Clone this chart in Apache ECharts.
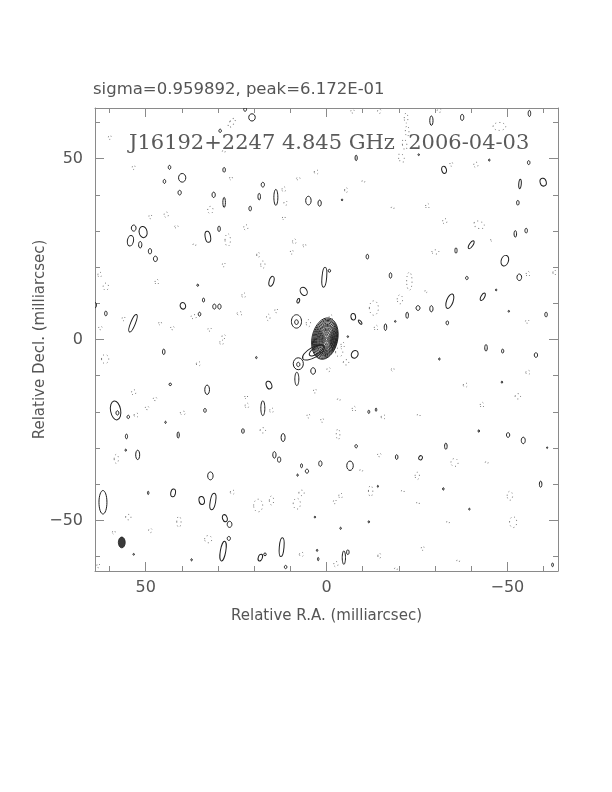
<!DOCTYPE html>
<html>
<head>
<meta charset="utf-8">
<script src="https://cdn.jsdelivr.net/npm/echarts@6/dist/echarts.min.js"></script>
<style>html,body{margin:0;padding:0;background:#fff}#c{width:612px;height:792px}</style>
</head>
<body>
<div id="c"></div>
<script>
// ---------- data (milliarcsec) : [RA offset, Dec offset, width, height, tilt deg] ----------
const headerText = 'sigma=0.959892, peak=6.172E-01';
const plotTitle = 'J16192+2247 4.845 GHz  2006-04-03';
const xAxisName = 'Relative R.A. (milliarcsec)';
const yAxisName = 'Relative Decl. (milliarcsec)';
const axisRange = [-64, 64];
const minorTicks = [-60,-50,-40,-30,-20,-10,0,10,20,30,40,50,60];
const majorTicks = [-50,0,50];

const coreContours = [
  [0.45,0.25,7.1,11.6,-12],[0.4,0.2,6.7,11.0,-12],[0.35,0.2,6.3,10.3,-12],[0.3,0.2,5.9,9.6,-12],
  [0.25,0.15,5.5,8.9,-11],[0.2,0.1,5.1,8.2,-10],[0.2,0.1,4.7,7.6,-10],[0.15,0.1,4.3,7.0,-9],
  [0.1,0.05,3.9,6.3,-8],[0.1,0.05,3.5,5.6,-8],[0.05,0.05,3.1,5.0,-6],[0,0,2.7,4.3,-5],
  [0,0,2.3,3.7,-4],[0,0,1.9,3.0,-2],[0,0,1.4,2.3,0],[0,0,0.9,1.5,0],[0,0,0.5,0.8,0]
];
const tailContours = [
  [3.6,-3.6,6.8,2.8,30],[2.8,-3.0,4.6,1.9,35],[7.8,-6.7,2.8,3.3,0],[7.8,-6.9,0.9,1.2,0]
];
const solidBlobs = [
  [20.6,61.4,1.8,2.0,0],[43.4,47.6,0.7,1.1,0],[39.9,44.7,2.0,2.4,0],[44.8,43.7,0.7,1.1,0],
  [40.6,40.6,0.9,1.3,0],[28.3,46.9,0.7,1.3,0],[31.2,40.0,0.9,1.5,0],[28.3,37.9,0.7,2.8,0],
  [17.6,42.8,0.9,1.3,0],[18.6,39.5,0.7,1.8,0],[14.0,39.3,1.1,4.4,0],[21.1,36.2,0.7,1.3,0],
  [5.0,38.4,1.5,2.4,0],[1.9,37.7,0.9,1.7,0],[53.3,30.8,1.3,1.7,0],[50.7,29.7,2.2,3.1,10],
  [54.2,27.3,1.7,2.9,-10],[51.5,26.2,0.9,1.8,0],[48.8,24.4,0.9,1.5,0],[47.3,22.3,1.1,1.5,0],
  [32.8,28.4,1.5,3.1,10],[29.7,30.6,0.7,1.5,0],[15.2,16.1,1.3,2.8,-15],[6.3,13.3,1.8,2.4,30],
  [7.8,10.7,0.7,1.3,-20],[0.6,17.2,1.3,5.5,-5],[-0.8,19.0,0.7,0.8,0],[8.3,5.0,2.8,3.7,0],
  [8.3,4.8,1.0,1.3,0],[39.7,9.3,1.5,1.8,20],[34.0,10.9,0.6,1.1,0],[31.0,9.1,0.9,1.4,0],
  [29.6,9.1,0.9,1.4,0],[35.1,7.0,0.7,1.1,0],[61.0,7.2,0.7,1.3,0],[53.5,4.5,1.3,5.2,-22],
  [64.0,9.5,0.8,1.5,0],[35.6,15.0,0.5,0.6,0],[29.4,57.7,0.7,0.9,0],[22.5,63.6,0.8,1.0,0],
  [-29.0,60.5,0.9,2.6,0],[-37.5,61.4,0.9,1.7,0],[-56.1,62.5,0.7,1.7,0],[-8.2,50.2,0.6,1.5,0],
  [-32.5,46.9,1.3,2.0,15],[-55.9,48.9,0.7,1.1,0],[-53.5,43.0,0.7,2.6,-5],[-59.9,43.5,1.7,2.2,15],
  [-52.9,37.8,0.7,1.3,0],[-52.2,29.2,0.7,1.8,0],[-55.2,30.1,0.7,1.3,0],[-40.0,26.2,1.0,2.5,-35],
  [-35.8,24.6,0.6,1.5,0],[-49.3,21.8,2.0,3.0,-20],[-11.3,22.9,0.7,1.3,0],[-17.7,17.7,0.7,1.5,0],
  [-38.8,17.0,0.7,0.9,0],[-53.3,17.2,1.3,1.8,0],[-43.2,11.8,1.0,2.3,-30],[-34.1,10.6,1.8,4.2,-20],
  [-46.9,13.7,0.4,0.5,0],[-25.3,8.7,1.1,1.3,0],[-29.0,8.5,0.9,1.7,0],[-22.3,6.7,0.7,1.7,0],
  [-7.4,6.3,1.3,1.8,10],[-9.3,4.8,0.6,1.4,40],[-16.3,3.4,0.7,1.8,0],[-33.4,4.6,0.7,1.1,0],
  [-50.4,7.8,0.4,0.5,0],[-60.7,6.9,0.7,1.3,0],[-25.5,51.1,0.4,0.5,0],[-45.0,49.6,0.4,0.6,0],
  [-4.3,38.6,0.4,0.5,0],[-19.0,5.0,0.4,0.5,0],[-5.9,0.8,0.4,0.5,0],
  [45.0,-3.4,0.7,1.5,0],[43.2,-12.4,0.7,0.7,0],[33.0,-13.9,1.3,2.6,0],[33.6,-19.6,0.7,1.1,0],
  [58.3,-19.6,2.8,5.3,10],[57.8,-20.3,0.8,1.2,0],[54.8,-21.4,0.7,0.9,0],[55.3,-26.8,0.6,1.3,0],
  [41.0,-26.4,0.6,1.7,0],[52.2,-31.9,1.1,2.6,0],[32.1,-37.7,1.5,2.2,0],[42.4,-42.4,1.3,2.2,-10],
  [34.5,-44.5,1.5,2.2,10],[31.4,-44.8,1.5,4.6,-10],[61.8,-45.0,2.2,6.5,0],[28.1,-49.4,1.3,2.0,20],
  [26.8,-51.1,1.3,1.7,0],[27.0,-55.0,0.9,1.1,0],[28.6,-58.5,1.5,5.5,-10],[18.3,-60.3,1.1,2.0,-20],
  [17.0,-59.4,0.7,0.8,0],[12.4,-57.4,1.3,5.2,-5],[11.3,-62.9,0.7,0.9,0],[23.1,-25.3,0.7,1.3,0],
  [17.6,-19.0,1.1,4.1,0],[15.9,-12.6,1.5,2.2,20],[12.0,-27.1,1.1,2.2,0],[14.4,-31.9,0.9,1.8,0],
  [13.1,-33.2,0.9,1.5,0],[8.2,-10.9,1.1,3.7,0],[3.7,-8.7,1.3,1.8,0],[6.9,-34.9,0.55,1.1,0],
  [5.4,-36.4,0.9,1.1,0],[1.7,-34.3,0.9,1.5,0],[8.0,-37.5,0.4,0.6,0],[44.5,-22.9,0.4,0.6,0],
  [55.5,-30.6,0.4,0.6,0],[49.3,-42.4,0.4,0.9,0],[19.4,-5.0,0.4,0.6,0],[2.6,-58.3,0.4,0.6,0],
  [2.3,-60.7,0.4,0.9,0],[37.3,-60.9,0.4,0.6,0],[53.3,-59.4,0.4,0.5,0],[3.2,-49.1,0.4,0.5,0],
  [-7.8,-4.1,1.8,2.2,-30],[-44.1,-2.3,0.7,1.8,0],[-48.7,-3.2,0.6,1.1,0],[-57.9,-4.3,0.9,1.3,0],
  [-31.2,-5.4,0.4,0.6,0],[-48.5,-11.8,0.4,0.6,0],[-11.7,-20.0,0.5,0.9,0],[-13.7,-19.4,0.4,0.9,0],
  [-8.2,-29.5,0.7,0.9,0],[-19.4,-32.5,0.7,1.3,0],[-26.0,-32.7,1.0,1.2,-30],[-33.0,-29.5,0.7,1.7,0],
  [-6.5,-34.9,1.8,2.6,0],[-42.1,-25.3,0.4,0.7,0],[-50.2,-26.4,0.9,1.3,0],[-54.4,-27.9,1.1,1.8,0],
  [-59.2,-40.0,0.7,1.7,0],[-32.3,-41.3,0.4,0.7,0],[-39.5,-46.9,0.4,0.5,0],[-11.7,-50.4,0.4,0.6,0],
  [-3.9,-52.2,0.4,0.6,0],[-4.8,-60.3,0.9,3.7,0],[-5.9,-58.8,0.7,1.3,0],[-14.2,-40.6,0.3,0.6,0],
  [-62.5,-62.3,0.5,1.0,0],[-61.0,-29.9,0.3,0.5,0]
];
const dottedBlobs = [
  [59.9,55.9,0.8,1.2,0],[26.2,59.9,1.2,3.0,-35],[53.3,47.6,0.8,1.2,0],[26.4,44.6,0.8,1.0,0],
  [32.1,35.8,1.5,2.0,0],[44.3,34.5,1.2,1.5,0],[48.7,34.0,0.8,1.2,0],[41.5,31.2,1.0,0.8,0],
  [27.3,27.5,1.5,3.5,0],[22.3,31.0,1.2,1.5,0],[11.8,41.5,1.0,1.5,0],[11.3,37.7,1.0,1.2,0],
  [11.8,33.6,0.8,1.0,0],[8.9,27.1,1.0,1.5,0],[9.6,24.2,0.8,1.2,0],[6.1,26.0,0.8,1.0,0],
  [2.8,46.3,1.2,1.2,0],[7.8,44.5,1.0,0.8,0],[18.9,23.4,0.8,1.5,0],[17.6,20.7,1.2,2.0,0],
  [28.4,20.7,0.8,1.2,0],[36.5,26.2,0.8,0.8,0],[62.7,17.9,1.0,1.5,0],[61.0,14.6,1.5,2.0,0],
  [46.9,15.9,1.0,1.5,0],[22.9,12.2,1.0,1.5,0],[24.0,7.2,1.5,1.0,0],[36.7,6.3,1.5,1.2,0],
  [16.1,6.1,1.0,1.8,0],[13.9,8.0,0.8,1.2,0],[42.6,3.2,1.0,1.0,0],[32.3,2.8,1.0,1.0,0],
  [28.4,0.8,1.0,1.2,0],[62.5,3.2,1.0,1.0,0],[56.1,5.8,0.8,1.2,0],[46.0,4.5,0.8,1.0,0],
  [28.4,52.0,0.8,0.8,0],[5.0,4.5,1.2,2.0,0],[-4.5,-1.5,1.0,1.5,0],
  [-22.0,61.2,1.0,2.8,0],[-22.3,57.6,1.0,3.0,0],[-21.6,53.9,1.2,3.0,10],[-20.7,50.2,1.5,2.5,20],
  [-47.8,58.9,3.5,2.2,0],[-14.6,63.1,1.0,1.2,0],[-7.2,63.1,1.0,1.0,0],[-31.2,63.3,1.2,1.0,0],
  [-5.4,41.3,0.8,1.5,0],[-10.2,43.7,0.8,0.8,0],[-18.3,36.4,0.8,0.8,0],[-27.9,36.9,1.0,1.5,0],
  [-32.7,32.7,1.2,1.5,0],[-42.2,31.7,3.0,2.0,-20],[-45.6,27.5,0.5,0.6,0],[-30.1,24.2,2.0,1.2,0],
  [-22.9,16.1,1.5,5.0,0],[-20.3,11.1,1.5,2.5,0],[-13.1,8.7,2.5,4.0,0],[-27.5,13.3,0.6,0.8,0],
  [-1.2,6.1,1.0,1.5,0],[-13.7,3.2,1.0,1.5,0],[-55.7,18.1,1.0,1.5,0],[-55.5,5.0,1.0,1.0,0],
  [-63.0,18.5,0.8,1.5,0],[-34.5,48.5,0.8,1.2,0],[-41.3,48.3,1.2,1.5,0],
  [29.0,-0.8,1.0,1.5,0],[61.2,-5.4,2.0,2.5,0],[35.4,-6.7,1.2,1.2,0],[53.3,-14.6,1.2,1.5,0],
  [49.6,-18.9,1.0,1.0,0],[52.6,-20.9,1.2,1.2,0],[39.7,-20.3,1.5,1.0,0],[22.0,-18.3,1.0,1.5,0],
  [17.6,-25.1,1.5,1.5,0],[58.1,-33.0,1.2,2.5,0],[26.0,-42.2,1.2,1.2,0],[18.9,-45.9,2.5,3.5,0],
  [15.2,-44.5,1.2,2.5,0],[8.2,-45.4,2.0,3.0,0],[6.9,-42.4,1.5,1.5,0],[54.8,-49.1,1.5,1.5,0],
  [40.8,-50.4,1.2,3.0,0],[48.7,-52.8,1.0,1.2,0],[32.7,-55.2,2.0,2.0,0],[58.8,-53.3,0.8,1.0,0],
  [63.1,-62.5,0.8,1.2,0],[6.9,-59.4,1.2,1.2,0],[47.4,-16.4,1.0,1.0,0],[22.2,-15.9,0.8,1.0,0],
  [3.2,-14.2,0.8,1.2,0],[5.0,-21.1,0.8,1.2,0],[1.2,-22.3,0.8,1.2,0],[15.2,-19.6,1.0,1.5,0],
  [-3.5,-3.5,2.0,2.5,0],[-5.4,-6.3,1.5,1.5,0],[-0.6,-8.3,1.0,1.2,0],[-18.3,-8.3,0.8,1.0,0],
  [-38.4,-12.6,1.2,1.2,0],[-55.7,-9.1,1.2,1.2,0],[-52.9,-15.7,1.5,1.5,0],[-43.0,-18.1,1.0,1.5,0],
  [-7.6,-19.2,1.0,1.5,0],[-15.7,-21.4,1.2,1.2,0],[-25.5,-20.9,0.8,0.8,0],[-3.2,-26.2,1.0,3.0,0],
  [-3.4,-16.6,0.8,0.8,0],[-14.6,-31.9,1.0,1.0,0],[-35.4,-34.0,2.0,2.2,0],[-9.6,-36.2,0.8,0.8,0],
  [-44.3,-34.0,0.8,0.8,0],[-25.1,-37.7,1.2,2.0,0],[-12.2,-41.9,1.2,3.0,0],[-3.9,-43.2,1.0,1.5,0],
  [-2.3,-44.8,0.8,1.2,0],[-50.7,-43.2,1.5,2.5,0],[-25.3,-45.2,0.8,0.8,0],[-51.6,-50.5,2.0,3.0,0],
  [-33.6,-50.5,0.8,0.8,0],[-21.1,-41.9,0.8,0.8,0],[-26.6,-57.7,0.8,1.2,0],[-14.6,-59.8,0.8,1.5,0],
  [-36.4,-61.2,0.8,0.8,0],[-2.6,-62.1,1.2,1.5,0],[-19.2,-63.4,0.8,0.8,0]
];
const beam = [[56.6,-56.1,1.9,3.0,0]];

// ---------- chart ----------
const GRID = {left:95, top:108, width:463, height:463};
const FRAME = '#8a8a8a';
const TEXT = '#555';

function blobRenderer(style) {
  return function (params, api) {
    const c = api.coord([api.value(0), api.value(1)]);
    const s = api.size([api.value(2), api.value(3)]);
    return {
      type: 'ellipse',
      x: c[0], y: c[1],
      rotation: api.value(4) * Math.PI / 180,
      shape: {cx: 0, cy: 0, rx: Math.abs(s[0]) / 2, ry: Math.abs(s[1]) / 2},
      style: style
    };
  };
}
function blobSeries(data, style, z) {
  return {type:'custom', xAxisIndex:0, yAxisIndex:0, clip:true, silent:true, z:z,
          encode:{x:0, y:1}, data:data, renderItem: blobRenderer(style)};
}
const fmt = v => v < 0 ? '\u2212' + Math.abs(v) : String(v);

function xAx(pos, ticks, len, withLabel, withLine) {
  return {
    type:'value', min:axisRange[0], max:axisRange[1], inverse:true, position:pos,
    axisLine:{show:withLine, onZero:false, lineStyle:{color:FRAME, width:1}},
    axisTick:{show:true, inside:true, length:len, customValues:ticks, lineStyle:{color:FRAME, width:1}},
    axisLabel:{show:withLabel, customValues:majorTicks, formatter:fmt, margin:9,
               color:TEXT, fontFamily:'DejaVu Sans', fontSize:16},
    splitLine:{show:false}
  };
}
function yAx(pos, ticks, len, withLabel, withLine) {
  return {
    type:'value', min:axisRange[0], max:axisRange[1], position:pos,
    axisLine:{show:withLine, onZero:false, lineStyle:{color:FRAME, width:1}},
    axisTick:{show:true, inside:true, length:len, customValues:ticks, lineStyle:{color:FRAME, width:1}},
    axisLabel:{show:withLabel, customValues:majorTicks, formatter:fmt, margin:12,
               color:TEXT, fontFamily:'DejaVu Sans', fontSize:16},
    splitLine:{show:false}
  };
}

const chart = echarts.init(document.getElementById('c'), null, {renderer:'canvas', width:612, height:792});
const solidStyle = {fill:null, stroke:'#1e1e1e', lineWidth:1};
const dottedStyle = {fill:null, stroke:'#7a7a7a', lineWidth:1, lineDash:[1,3]};
chart.setOption({
  backgroundColor:'#fff',
  animation:false,
  grid: GRID,
  xAxis:[
    xAx('bottom', minorTicks, 5, true, true),
    xAx('bottom', majorTicks, 9, false, false),
    xAx('top', minorTicks, 5, false, true),
    xAx('top', majorTicks, 9, false, false)
  ],
  yAxis:[
    yAx('left', minorTicks, 5, true, true),
    yAx('left', majorTicks, 9, false, false),
    yAx('right', minorTicks, 5, false, true),
    yAx('right', majorTicks, 9, false, false)
  ],
  graphic:[
    {type:'text', left:93, top:81, style:{text:headerText, fill:TEXT, font:'16.5px "DejaVu Sans"'}},
    {type:'text', left:129, top:133, style:{text:plotTitle, fill:'#5a5a5a', font:'21px "DejaVu Serif"'}},
    {type:'text', x:326.5, y:616, style:{text:xAxisName, fill:TEXT, font:'15px "DejaVu Sans"',
      align:'center', verticalAlign:'middle'}},
    {type:'text', x:40, y:339.5, rotation:Math.PI/2, style:{text:yAxisName, fill:TEXT,
      font:'15px "DejaVu Sans"', align:'center', verticalAlign:'middle'}}
  ],
  series:[
    blobSeries(dottedBlobs, dottedStyle, 2),
    blobSeries(solidBlobs, solidStyle, 3),
    blobSeries(tailContours, solidStyle, 3),
    blobSeries(coreContours, {fill:null, stroke:'#222', lineWidth:0.9}, 4),
    blobSeries(beam, {fill:'#3a3a3a', stroke:'#222', lineWidth:0.8}, 4)
  ]
});
</script>
</body>
</html>
